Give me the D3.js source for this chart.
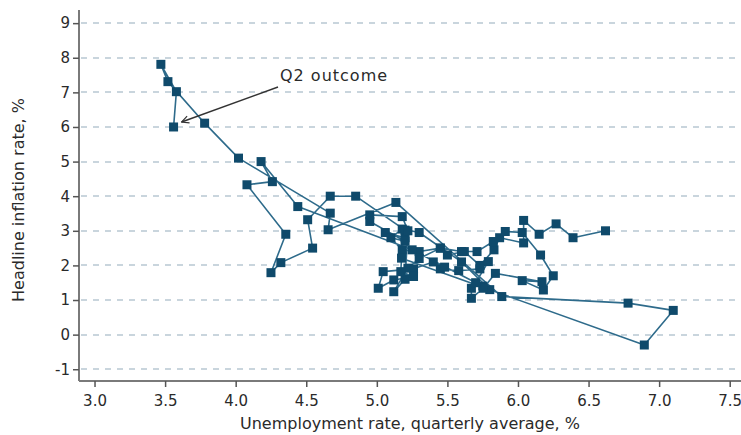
<!DOCTYPE html>
<meta charset="utf-8">
<title>Unemployment vs inflation</title>
<style>
body {
  margin: 0;
  background: #fff;
}
text {
  font-family: "DejaVu Sans", Verdana, sans-serif;
  fill: #2a2a2a;
}
.grid line {
  stroke: #c9d5dd;
  stroke-width: 2px;
  stroke-dasharray: 6,6;
}
.trail {
  fill: none;
  stroke: #2e6b8b;
  stroke-width: 1.6px;
  stroke-linejoin: round;
}
</style>
<svg></svg>
<script src="https://d3js.org/d3.v7.min.js"></script>
<script>
// quarterly observations, oldest first
var quarters = ["2002Q1","2002Q2","2002Q3","2002Q4","2003Q1","2003Q2","2003Q3","2003Q4",
  "2004Q1","2004Q2","2004Q3","2004Q4","2005Q1","2005Q2","2005Q3","2005Q4",
  "2006Q1","2006Q2","2006Q3","2006Q4","2007Q1","2007Q2","2007Q3","2007Q4",
  "2008Q1","2008Q2","2008Q3","2008Q4","2009Q1","2009Q2","2009Q3","2009Q4",
  "2010Q1","2010Q2","2010Q3","2010Q4","2011Q1","2011Q2","2011Q3","2011Q4",
  "2012Q1","2012Q2","2012Q3","2012Q4","2013Q1","2013Q2","2013Q3","2013Q4",
  "2014Q1","2014Q2","2014Q3","2014Q4","2015Q1","2015Q2","2015Q3","2015Q4",
  "2016Q1","2016Q2","2016Q3","2016Q4","2017Q1","2017Q2","2017Q3","2017Q4",
  "2018Q1","2018Q2","2018Q3","2018Q4","2019Q1","2019Q2","2019Q3","2019Q4",
  "2020Q1","2020Q2","2020Q3","2020Q4","2021Q1","2021Q2","2021Q3","2021Q4",
  "2022Q1","2022Q2","2022Q3","2022Q4","2023Q1","2023Q2"];

var unemployment = [6.62,6.39,6.27,6.15,6.04,6.04,5.87,5.83,
  5.73,5.62,5.50,5.45,5.30,5.18,5.06,5.20,
  5.20,4.85,4.67,4.51,4.545,4.32,4.25,4.355,
  4.08,4.26,4.18,4.44,5.25,5.75,5.80,5.60,
  5.30,5.18,5.10,5.20,4.95,4.95,5.18,5.22,
  5.20,5.12,5.22,5.30,5.45,5.60,5.71,5.825,
  5.91,6.03,6.16,6.25,6.18,6.03,6.17,5.84,
  5.755,5.67,5.67,5.70,5.79,5.73,5.58,5.45,
  5.48,5.40,5.26,5.045,5.01,5.12,5.26,5.17,
  5.175,6.895,7.10,6.78,5.885,5.135,4.655,4.67,
  4.02,3.78,3.52,3.47,3.58,3.56];

var inflation = [3.0,2.8,3.2,2.9,3.3,2.65,2.8,2.45,
  2.0,2.4,2.3,2.5,2.4,2.45,2.95,2.8,
  3.02,4.0,4.0,3.32,2.5,2.08,1.79,2.9,
  4.33,4.42,5.0,3.7,2.45,1.4,1.3,2.1,
  2.95,3.05,2.8,2.7,3.27,3.46,3.41,3.0,
  1.6,1.24,1.92,2.2,2.5,2.4,2.4,2.69,
  2.98,2.95,2.3,1.7,1.29,1.56,1.53,1.77,
  1.34,1.05,1.34,1.5,2.11,1.9,1.85,1.9,
  1.95,2.1,1.9,1.82,1.34,1.58,1.68,1.82,
  2.21,-0.3,0.7,0.91,1.1,3.82,3.03,3.51,
  5.1,6.11,7.31,7.81,7.02,6.0];

var xTicks = [3.0,3.5,4.0,4.5,5.0,5.5,6.0,6.5,7.0,7.5];
var yTicks = [-1,0,1,2,3,4,5,6,7,8,9];

var width = 741,
    height = 435;
// plot box (window.top is reserved, so use a margin object)
var plot = {left: 79, right: 741, top: 10, bottom: 381};

var svg = d3.select("svg")
    .attr("width", width)
    .attr("height", height);

var x = d3.scaleLinear()
    .domain([2.89, 7.58])
    .range([plot.left, plot.right]);
var y = d3.scaleLinear()
    .domain([-1.34, 9.38])
    .range([plot.bottom, plot.top]);

var points = quarters.map(function(q, i) {
  return {q: q, u: unemployment[i], p: inflation[i]};
});

// dashed gridlines
svg.append("g")
    .attr("class", "grid")
  .selectAll("line")
    .data(yTicks)
  .enter().append("line")
    .attr("x1", plot.left + 2)
    .attr("x2", plot.right)
    .attr("y1", function(d) { return Math.round(y(d)); })
    .attr("y2", function(d) { return Math.round(y(d)); });

// axes
var xAxis = svg.append("g")
    .attr("transform", "translate(0," + plot.bottom + ")")
    .call(d3.axisBottom(x).tickValues(xTicks).tickFormat(d3.format(".1f")).tickSize(6).tickPadding(8));
var yAxis = svg.append("g")
    .attr("transform", "translate(" + plot.left + ",0)")
    .call(d3.axisLeft(y).tickValues(yTicks).tickFormat(function(d) { return String(d); }).tickSize(6).tickPadding(3));

[xAxis, yAxis].forEach(function(a) {
  a.select(".domain").attr("stroke", "#7a7a7a").attr("stroke-width", 2);
  a.selectAll(".tick line").attr("stroke", "#555").attr("stroke-width", 1.5);
  a.selectAll(".tick text")
      .style("font-family", '"DejaVu Sans", Verdana, sans-serif')
      .style("font-size", "15px")
      .attr("fill", "#2a2a2a");
});
xAxis.select(".domain").attr("d", "M" + plot.left + ",0H" + plot.right);
yAxis.select(".domain").attr("d", "M0," + plot.top + "V" + plot.bottom);

// axis titles
svg.append("text")
    .attr("x", (plot.left + plot.right) / 2)
    .attr("y", 429)
    .attr("text-anchor", "middle")
    .style("font-size", "16px")
    .text("Unemployment rate, quarterly average, %");
svg.append("text")
    .attr("transform", "translate(24," + 200 + ") rotate(-90)")
    .attr("text-anchor", "middle")
    .style("font-size", "16px")
    .text("Headline inflation rate, %");

// connected scatter
var line = d3.line()
    .x(function(d) { return x(d.u); })
    .y(function(d) { return y(d.p); });
svg.append("path")
    .datum(points)
    .attr("class", "trail")
    .attr("d", line);

var m = 9;
svg.append("g")
  .selectAll("rect")
    .data(points)
  .enter().append("rect")
    .attr("x", function(d) { return x(d.u) - m / 2; })
    .attr("y", function(d) { return y(d.p) - m / 2; })
    .attr("width", m)
    .attr("height", m)
    .attr("fill", "#0f4a6b");

// annotation for the latest quarter
var last = points[points.length - 1];
svg.append("defs").append("marker")
    .attr("id", "arrow")
    .attr("viewBox", "0 0 10 10")
    .attr("refX", 9)
    .attr("refY", 5)
    .attr("markerWidth", 9)
    .attr("markerHeight", 9)
    .attr("markerUnits", "userSpaceOnUse")
    .attr("orient", "auto")
  .append("path")
    .attr("d", "M1,1L9,5L1,9")
    .attr("fill", "none")
    .attr("stroke", "#333")
    .attr("stroke-width", 1.3);
svg.append("line")
    .attr("x1", 278)
    .attr("y1", 87)
    .attr("x2", x(last.u) + 8)
    .attr("y2", y(last.p) - 5)
    .attr("stroke", "#333")
    .attr("stroke-width", 1.4)
    .attr("marker-end", "url(#arrow)");
svg.append("text")
    .attr("x", 280)
    .attr("y", 81)
    .style("font-size", "16px")
    .style("letter-spacing", "1px")
    .text("Q2 outcome");
</script>
